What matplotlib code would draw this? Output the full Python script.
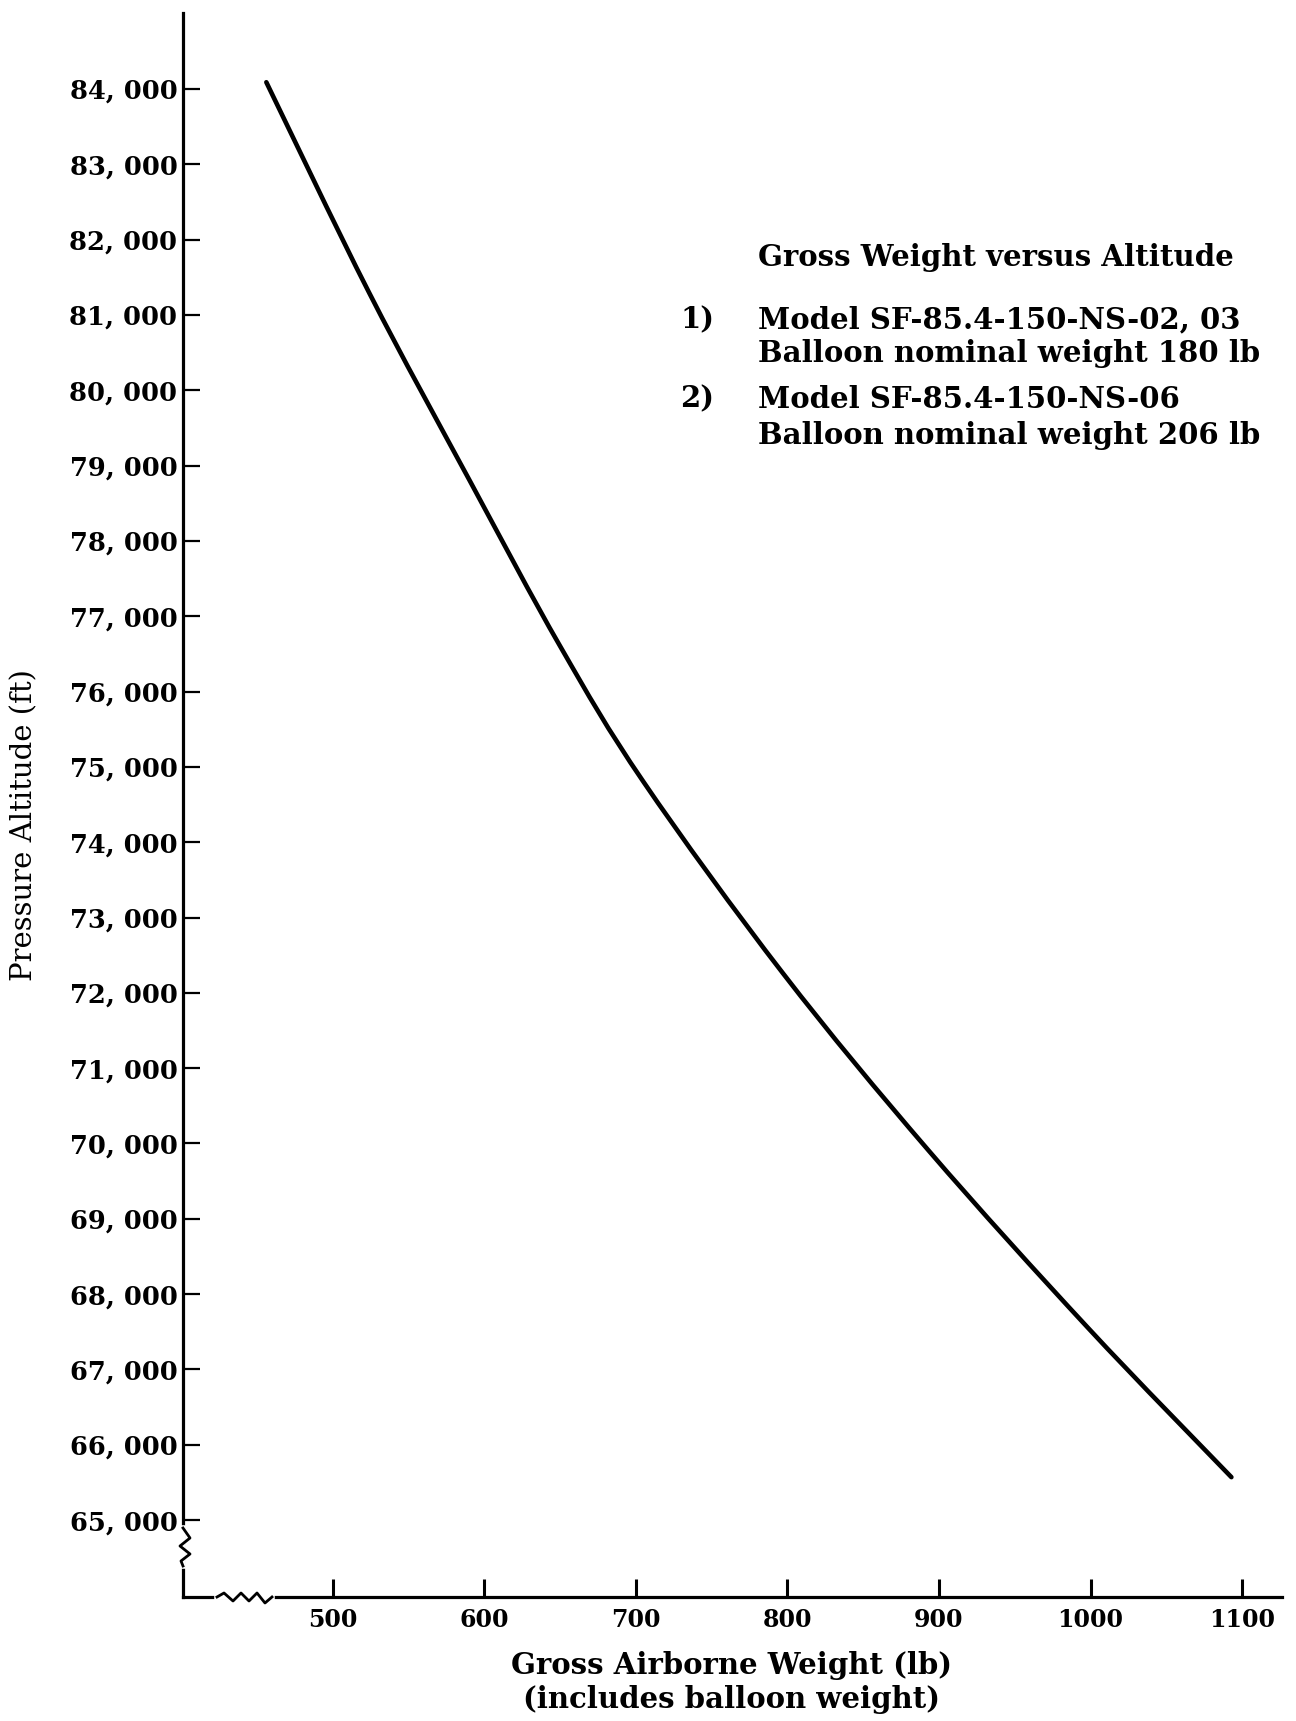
import numpy as np
import matplotlib
matplotlib.use("Agg")
import matplotlib.pyplot as plt
from matplotlib.path import Path
from matplotlib.patches import PathPatch

# gross airborne weight (lb) vs pressure altitude (ft)
weight = [456, 524, 590, 650, 705, 797, 893, 998, 1093]
altitude = [84090, 81290, 78810, 76600, 74800, 72260, 69910, 67560, 65570]

y_ticks = list(range(65000, 85000, 1000))
y_ticklabels = ["{:d}, 000".format(v // 1000) for v in y_ticks]
x_ticks = [500, 600, 700, 800, 900, 1000, 1100]

W, H = 1296, 1721
fig = plt.figure(figsize=(W / 100, H / 100), dpi=100)
# axes box in pixels: left 183, right 1282, top 13, bottom 1597
ax = fig.add_axes([183 / W, 1 - 1597 / H, (1282 - 183) / W, (1597 - 13) / H])

# smooth curve through the read points (Catmull-Rom as cubic bezier segments)
pts = np.column_stack([weight, altitude]).astype(float)
ext = np.vstack([pts[0], pts, pts[-1]])
verts = [pts[0]]
codes = [Path.MOVETO]
for i in range(1, len(ext) - 2):
    p0, p1, p2, p3 = ext[i - 1], ext[i], ext[i + 1], ext[i + 2]
    verts += [p1 + (p2 - p0) / 6, p2 - (p3 - p1) / 6, p2]
    codes += [Path.CURVE4] * 3
curve = PathPatch(Path(verts, codes), transform=ax.transData, fill=False,
                  edgecolor="black", lw=3.3, capstyle="round")
ax.add_patch(curve)

ax.set_xlim(401, 1126.4)
ax.set_ylim(63979, 85009)

serif = "DejaVu Serif"
ax.set_yticks(y_ticks)
ax.set_yticklabels(y_ticklabels, fontsize=18.5, fontweight="bold", family=serif)
ax.set_xticks(x_ticks)
ax.set_xticklabels([str(v) for v in x_ticks], fontsize=17, fontweight="bold", family=serif)
ax.tick_params(axis="y", direction="in", length=12, width=1.6, pad=4)
ax.tick_params(axis="x", direction="in", length=13, width=2.2, pad=8)

for s in ["top", "right"]:
    ax.spines[s].set_visible(False)
for s in ["left", "bottom"]:
    ax.spines[s].set_linewidth(2.3)

# axis breaks (zigzags) in axes fractions
aw, ah = 1282 - 183, 1597 - 13
def fx(px):
    return (px - 183) / aw
def fy(py):
    return (1597 - py) / ah

# y-axis break
ax.plot([0, 0], [fy(1528), fy(1566)], color="white", lw=4, transform=ax.transAxes, clip_on=False, zorder=5)
zy = [1528, 1538, 1546, 1554, 1561, 1566]
zx = [183, 190, 180, 190, 181, 183]
ax.plot([fx(v) for v in zx], [fy(v) for v in zy], color="black", lw=2.0,
        transform=ax.transAxes, clip_on=False, zorder=6)
# x-axis break
ax.plot([fx(217), fx(272)], [0, 0], color="white", lw=4, transform=ax.transAxes, clip_on=False, zorder=5)
zx2 = [217, 224, 233, 241, 249, 257, 265, 272]
zy2 = [1597, 1593, 1601, 1593, 1601, 1593, 1603, 1597]
ax.plot([fx(v) for v in zx2], [fy(v) for v in zy2], color="black", lw=2.0,
        transform=ax.transAxes, clip_on=False, zorder=6)

# labels
fig.text(24 / W, 1 - 825 / H, "Pressure Altitude (ft)", rotation=90, ha="center", va="center",
         fontsize=21, family=serif)
fig.text(732 / W, 1 - 1666 / H, "Gross Airborne Weight (lb)", ha="center", va="center",
         fontsize=21, fontweight="bold", family=serif)
fig.text(732 / W, 1 - 1700 / H, "(includes balloon weight)", ha="center", va="center",
         fontsize=21, fontweight="bold", family=serif)

# note block
tx = 758 / W
note = dict(fontsize=21, fontweight="bold", family=serif, va="center", ha="left")
fig.text(tx, 1 - 258 / H, "Gross Weight versus Altitude", **note)
fig.text(680 / W, 1 - 320 / H, "1)", **note)
fig.text(tx, 1 - 320 / H, "Model SF-85.4-150-NS-02, 03", **note)
fig.text(tx, 1 - 354 / H, "Balloon nominal weight 180 lb", **note)
fig.text(680 / W, 1 - 399 / H, "2)", **note)
fig.text(tx, 1 - 399 / H, "Model SF-85.4-150-NS-06", **note)
fig.text(tx, 1 - 435 / H, "Balloon nominal weight 206 lb", **note)

fig.savefig("out.png", dpi=100, facecolor="white")
